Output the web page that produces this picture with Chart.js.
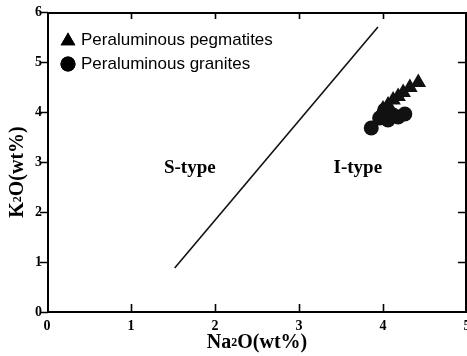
<!DOCTYPE html>
<html>
<head>
<meta charset="utf-8">
<script src="https://cdn.jsdelivr.net/npm/chart.js@4.4.1/dist/chart.umd.min.js"></script>
<style>
  html, body { margin: 0; padding: 0; background: #fff; }
  canvas { display: block; }
</style>
</head>
<body>
<canvas id="c" width="467" height="356"></canvas>
<script>
// Na2O vs K2O discrimination diagram (S-type / I-type)
const xTicks = [0, 1, 2, 3, 4, 5];
const yTicks = [0, 1, 2, 3, 4, 5, 6];

// S/I-type boundary line end points (Na2O, K2O)
const boundaryNa2O = [1.52, 3.94];
const boundaryK2O  = [0.88, 5.70];

// Peraluminous pegmatites
const pegNa2O = [4.42, 4.32, 4.24, 4.18, 4.12, 4.06, 4.00];
const pegK2O  = [4.59, 4.49, 4.39, 4.31, 4.24, 4.14, 4.06];

// Peraluminous granites
const graNa2O = [3.86, 3.96, 4.02, 4.06, 4.12, 4.18, 4.26];
const graK2O  = [3.68, 3.88, 4.04, 3.84, 3.94, 3.90, 3.96];

const fieldLabels = [
  { text: 'S-type', x: 1.70, y: 2.88 },
  { text: 'I-type', x: 3.70, y: 2.88 }
];

const legendItems = ['Peraluminous pegmatites', 'Peraluminous granites'];

const toPoints = (xs, ys) => xs.map((x, i) => ({ x, y: ys[i] }));

const SERIF_BOLD = 'bold 14px "Liberation Serif", "Times New Roman", serif';

const framePlugin = {
  id: 'frame',
  afterDraw(chart) {
    const ctx = chart.ctx;
    const xs = chart.scales.x, ys = chart.scales.y;
    const a = chart.chartArea;
    ctx.save();
    ctx.strokeStyle = '#000';
    ctx.fillStyle = '#000';

    // box
    ctx.lineWidth = 2;
    ctx.beginPath();
    ctx.rect(a.left + 1, a.top + 1, a.right - a.left - 2, a.bottom - a.top - 1);
    ctx.stroke();

    // tick marks
    ctx.lineWidth = 1.6;
    ctx.beginPath();
    xTicks.forEach(v => {
      const px = Math.round(xs.getPixelForValue(v)) + 0.5;
      if (v > 0 && v < 5) {
        ctx.moveTo(px, a.bottom); ctx.lineTo(px, a.bottom - 8);
        ctx.moveTo(px, a.top); ctx.lineTo(px, a.top + 7);
      }
    });
    yTicks.forEach(v => {
      const py = Math.round(ys.getPixelForValue(v)) + 0.5;
      ctx.moveTo(a.left + 1, py); ctx.lineTo(a.left - 7, py);
      if (v > 0 && v < 6) {
        ctx.moveTo(a.right - 1, py); ctx.lineTo(a.right - 9, py);
      }
    });
    ctx.stroke();

    // tick labels
    ctx.font = SERIF_BOLD;
    ctx.textAlign = 'center';
    ctx.textBaseline = 'top';
    xTicks.forEach(v => {
      ctx.fillText(String(v), xs.getPixelForValue(v), a.bottom + 7);
    });
    ctx.textAlign = 'right';
    ctx.textBaseline = 'middle';
    yTicks.forEach(v => {
      ctx.fillText(String(v), a.left - 5, ys.getPixelForValue(v));
    });

    // axis titles with subscript 2
    const drawTitle = (parts, cx, cy, rotate) => {
      ctx.save();
      ctx.translate(cx, cy);
      if (rotate) ctx.rotate(-Math.PI / 2);
      const big = 'bold 20px "Liberation Serif", "Times New Roman", serif';
      const small = 'bold 12px "Liberation Serif", "Times New Roman", serif';
      let w = 0;
      parts.forEach(p => { ctx.font = p.sub ? small : big; w += ctx.measureText(p.t).width; });
      let x = -w / 2;
      ctx.textAlign = 'left';
      ctx.textBaseline = 'alphabetic';
      parts.forEach(p => {
        ctx.font = p.sub ? small : big;
        ctx.fillText(p.t, x, p.sub ? 5 : 7);
        x += ctx.measureText(p.t).width;
      });
      ctx.restore();
    };
    drawTitle([{ t: 'Na' }, { t: '2', sub: true }, { t: 'O(wt%)' }], (a.left + a.right) / 2, 341, false);
    drawTitle([{ t: 'K' }, { t: '2', sub: true }, { t: 'O(wt%)' }], 16, 172, true);

    // field labels
    ctx.font = 'bold 19px "Liberation Serif", "Times New Roman", serif';
    ctx.textAlign = 'center';
    ctx.textBaseline = 'middle';
    fieldLabels.forEach(l => {
      ctx.fillText(l.text, xs.getPixelForValue(l.x), ys.getPixelForValue(l.y));
    });

    // legend
    const styles = ['triangle', 'circle'];
    const radii = [8.5, 7.5];
    const rowY = [40, 64];
    legendItems.forEach((txt, i) => {
      ctx.beginPath();
      Chart.helpers.drawPoint(ctx, { pointStyle: styles[i], radius: radii[i], borderWidth: 0 }, 68, rowY[i] + (i === 0 ? 1 : 0));
      ctx.fill();
      ctx.font = '17px "Liberation Sans", Arial, sans-serif';
      ctx.textAlign = 'left';
      ctx.textBaseline = 'middle';
      ctx.fillText(txt, 81, rowY[i]);
    });
    ctx.restore();
  }
};

new Chart(document.getElementById('c'), {
  type: 'scatter',
  data: {
    datasets: [
      {
        label: 'boundary',
        type: 'line',
        data: toPoints(boundaryNa2O, boundaryK2O),
        borderColor: '#111',
        borderWidth: 1.6,
        pointRadius: 0,
        fill: false
      },
      {
        label: legendItems[0],
        data: toPoints(pegNa2O, pegK2O),
        pointStyle: 'triangle',
        pointRadius: 9,
        backgroundColor: '#111',
        borderColor: '#111',
        borderWidth: 0
      },
      {
        label: legendItems[1],
        data: toPoints(graNa2O, graK2O),
        pointStyle: 'circle',
        pointRadius: 7.5,
        backgroundColor: '#111',
        borderColor: '#111',
        borderWidth: 0
      }
    ]
  },
  options: {
    responsive: false,
    devicePixelRatio: 1,
    animation: false,
    layout: { autoPadding: false, padding: { top: 12, right: 0, left: 0, bottom: 0 } },
    plugins: { legend: { display: false }, tooltip: { enabled: false } },
    scales: {
      x: {
        type: 'linear', min: 0, max: 5,
        ticks: { display: false, stepSize: 1 },
        grid: { display: false },
        border: { display: false },
        afterFit: s => { s.height = 44; s.paddingLeft = 0; s.paddingRight = 0; }
      },
      y: {
        type: 'linear', min: 0, max: 6,
        ticks: { display: false, stepSize: 1 },
        grid: { display: false },
        border: { display: false },
        afterFit: s => { s.width = 47; s.paddingTop = 0; s.paddingBottom = 0; }
      }
    }
  },
  plugins: [framePlugin]
});
</script>
</body>
</html>
